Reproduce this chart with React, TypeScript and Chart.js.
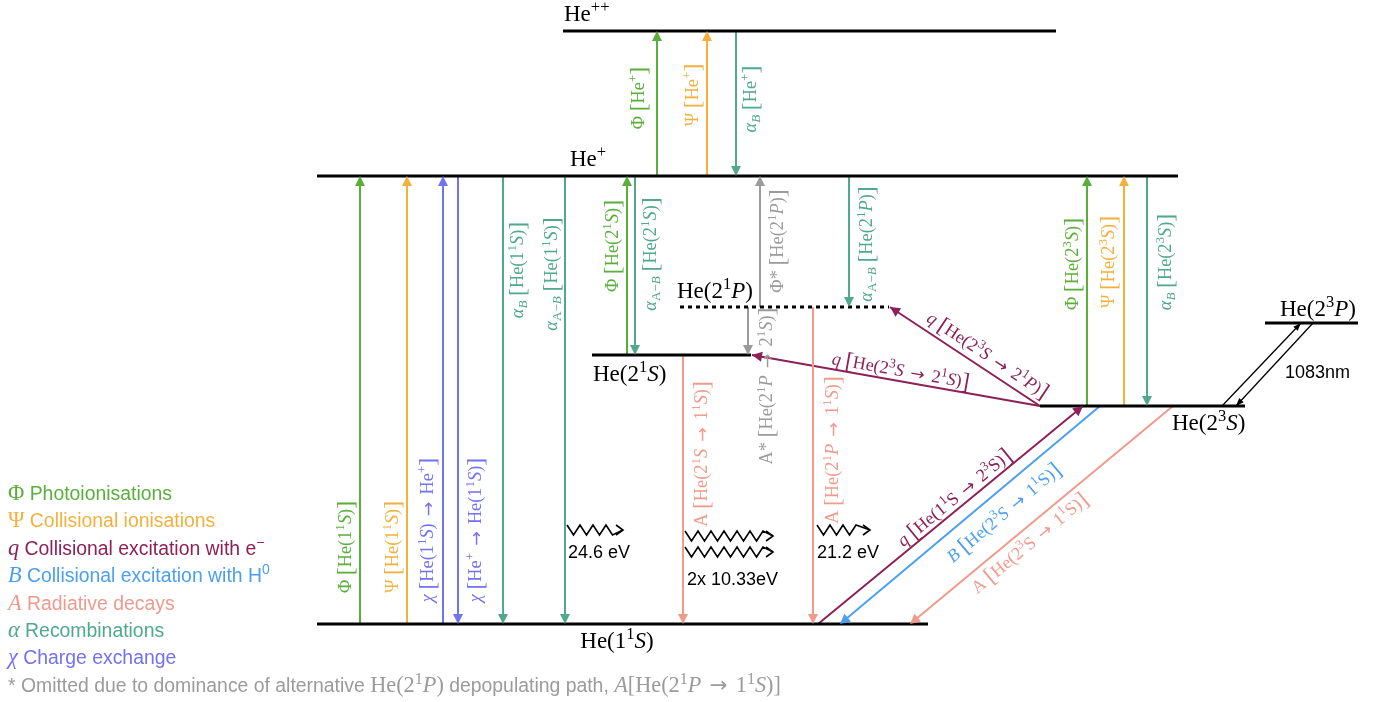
import React, { useEffect, useRef } from 'react';
import { Chart, registerables } from 'chart.js';

Chart.register(...registerables);

// ---------------- DATA (schematic diagram units: x across, E upward) ----------------
// Energy levels
const LEVEL_LABELS = ['He(1^{1}$S$)', 'He(2^{3}$S$)', 'He(2^{1}$S$)', 'He(2^{1}$P$)', 'He(2^{3}$P$)', 'He^{+}', 'He^{++}'];
const LEVEL_E = [78, 296, 347, 395, 379, 526, 671];
const LEVEL_X0 = [317, 1040, 592, 680, 1265, 317, 563];
const LEVEL_X1 = [928, 1245, 751, 889, 1358, 1178, 1056];
const LEVEL_LABEL_X = [617, 1172, 593, 677, 1280, 570, 564];
const LEVEL_LABEL_E = [54, 272, 321, 404, 386, 536, 681];

// Vertical transitions (index into levels)
const V_KIND = ['Φ', 'Ψ', 'α', 'Φ', 'Ψ', 'χ', 'χ', 'α', 'α', 'Φ', 'α', '*', 'α', '*', 'A', 'A', 'Φ', 'Ψ', 'α'];
const V_X = [657, 707, 736, 360, 407, 443, 458, 503, 565, 627, 635, 760, 849, 748, 683, 813, 1087, 1124, 1147];
const V_FROM = [5, 5, 6, 0, 0, 0, 5, 5, 5, 2, 5, 3, 5, 3, 2, 3, 1, 1, 5];
const V_TO = [6, 6, 5, 5, 5, 5, 0, 0, 0, 5, 2, 5, 3, 2, 0, 0, 5, 5, 1];
const V_LABELS = [
  'Φ ⟦He^{+}⟧',
  'Ψ ⟦He^{+}⟧',
  '$α$_{$B$} ⟦He^{+}⟧',
  'Φ ⟦He(1^{1}$S$)⟧',
  'Ψ ⟦He(1^{1}$S$)⟧',
  '$χ$ ⟦He(1^{1}$S$) → He^{+}⟧',
  '$χ$ ⟦He^{+} → He(1^{1}$S$)⟧',
  '$α$_{$B$} ⟦He(1^{1}$S$)⟧',
  '$α$_{A−$B$} ⟦He(1^{1}$S$)⟧',
  'Φ ⟦He(2^{1}$S$)⟧',
  '$α$_{A−$B$} ⟦He(2^{1}$S$)⟧',
  'Φ* ⟦He(2^{1}$P$)⟧',
  '$α$_{A−$B$} ⟦He(2^{1}$P$)⟧',
  'A* ⟦He(2^{1}$P$ → 2^{1}$S$)⟧',
  'A ⟦He(2^{1}$S$ → 1^{1}$S$)⟧',
  'A ⟦He(2^{1}$P$ → 1^{1}$S$)⟧',
  'Φ ⟦He(2^{3}$S$)⟧',
  'Ψ ⟦He(2^{3}$S$)⟧',
  '$α$_{$B$} ⟦He(2^{3}$S$)⟧',
];
const V_LABEL_DX = [-19, -15, 14, -15, -15, -16, 17, 14, -14, -15, 15, 17, 17, 18, 18, 19, -15, -16, 18];
const V_LABEL_E = [604, 607, 603, 155, 155, 172, 172, 432, 428, 456, 448, 461, 458, 316, 248, 252, 438, 440, 440];

// Slanted transitions
const D_KIND = ['q', 'q', 'q', 'B', 'A', 'λ', 'λ'];
const D_X0 = [1040, 1040, 818, 1100, 1173, 1222, 1313];
const D_FROM = [1, 1, 0, 1, 1, 1, 4];
const D_X1 = [752, 890, 1083, 840, 910, 1301, 1236];
const D_TO = [2, 3, 1, 0, 0, 4, 1];
const D_LABELS = [
  '$q$ ⟦He(2^{3}$S$ → 2^{1}$S$)⟧',
  '$q$ ⟦He(2^{3}$S$ → 2^{1}$P$)⟧',
  '$q$ ⟦He(1^{1}S → 2^{3}S)⟧',
  '$B$ ⟦He(2^{3}$S$ → 1^{1}S)⟧',
  'A ⟦He(2^{3}S → 1^{1}S)⟧',
  '',
  '',
];
const D_LABEL_T = [0.49, 0.4, 0.54, 0.42, 0.58, 0, 0];
const D_LABEL_OFF = [11, 14, 11, -20, -14, 0, 0];

// Emitted photons
const PHOTON_X0 = [567, 685, 685, 817];
const PHOTON_X1 = [623, 773, 773, 870];
const PHOTON_E = [172, 166, 150, 172];
const PHOTON_LABELS = ['24.6 eV', '2x 10.33eV', '21.2 eV', '1083nm'];
const PHOTON_LABEL_X = [568, 687, 817, 1285];
const PHOTON_LABEL_E = [144, 117, 144, 324];

// Legend
const LEGEND_ITEMS = [
  'Φ~ Photoionisations~',
  'Ψ~ Collisional ionisations~',
  '$q$~ Collisional excitation with e^{−}~',
  '$B$~ Collisional excitation with H^{0}~',
  '$A$~ Radiative decays~',
  '$α$~ Recombinations~',
  '$χ$~ Charge exchange~',
  '~* Omitted due to dominance of alternative ~He(2^{1}$P$)~ depopulating path, ~$A$[He(2^{1}$P$ → 1^{1}$S$)]',
];
const LEGEND_KIND = ['Φ', 'Ψ', 'q', 'B', 'A', 'α', 'χ', '*'];

// ---------------- STYLE ----------------
const COLORS: Record<string, string> = {
  'Φ': '#5aaf3a',
  'Ψ': '#f2b13c',
  'q': '#8c2157',
  'B': '#4b9ff2',
  'A': '#f09a8c',
  'α': '#4fa98a',
  'χ': '#7272f2',
  '*': '#9b9b9b',
  'λ': '#000000',
};
const SERIF = '"Liberation Serif", "Times New Roman", serif';
const SANS = '"Liberation Sans", Arial, Helvetica, sans-serif';
const ARROWFONT = '"DejaVu Sans", sans-serif';

type Run = { t: string; it: boolean; sans: boolean; lvl: number; big: boolean; arrow?: boolean };

function parseRich(s: string, lvl = 0, it0 = false, sans0 = false): Run[] {
  const runs: Run[] = [];
  let it = it0;
  let sans = sans0;
  let buf = '';
  const flush = () => {
    if (buf) {
      runs.push({ t: buf, it, sans, lvl, big: false });
      buf = '';
    }
  };
  for (let i = 0; i < s.length; i++) {
    const c = s[i];
    if (c === '$') {
      flush();
      it = !it;
    } else if (c === '~') {
      flush();
      sans = !sans;
    } else if ((c === '^' || c === '_') && s[i + 1] === '{') {
      flush();
      let depth = 1;
      let j = i + 2;
      while (j < s.length && depth > 0) {
        if (s[j] === '{') depth++;
        else if (s[j] === '}') depth--;
        j++;
      }
      const inner = s.slice(i + 2, j - 1);
      runs.push(...parseRich(inner, c === '^' ? 1 : -1, it, sans));
      i = j - 1;
    } else if (c === '⟦' || c === '⟧') {
      flush();
      runs.push({ t: c === '⟦' ? '[' : ']', it: false, sans: false, lvl, big: true });
    } else if (c === '→') {
      flush();
      runs.push({ t: '→', it: false, sans: false, lvl, big: false, arrow: true });
    } else {
      buf += c;
    }
  }
  flush();
  return runs;
}

function runFont(r: Run, size: number, serifScale: number) {
  const s0 = r.sans ? size : size * serifScale;
  if (r.arrow) return `${s0 * 0.95}px ${ARROWFONT}`;
  const sz = r.lvl !== 0 ? s0 * 0.72 : r.big ? s0 * 1.3 : s0;
  return `${r.it ? 'italic ' : ''}${sz}px ${r.sans ? SANS : SERIF}`;
}

function drawRich(
  ctx: CanvasRenderingContext2D,
  s: string,
  x: number,
  y: number,
  size: number,
  color: string,
  align: 'left' | 'center' = 'left',
  angle = 0,
  vCenter = false,
  serifScale = 1
) {
  const runs = parseRich(s);
  const pad = size * 0.14;
  const widths = runs.map((r) => {
    ctx.font = runFont(r, size, serifScale);
    return ctx.measureText(r.t).width + (r.arrow ? 2 * pad : 0);
  });
  const total = widths.reduce((a, b) => a + b, 0);
  ctx.save();
  ctx.translate(x, y);
  ctx.rotate(angle);
  ctx.fillStyle = color;
  ctx.textBaseline = 'alphabetic';
  ctx.textAlign = 'left';
  let cx = align === 'center' ? -total / 2 : 0;
  const base = vCenter ? size * 0.33 : 0;
  runs.forEach((r, i) => {
    ctx.font = runFont(r, size, serifScale);
    const dy = r.lvl === 1 ? -size * 0.4 : r.lvl === -1 ? size * 0.2 : r.big ? size * 0.08 : r.arrow ? size * 0.03 : 0;
    ctx.fillText(r.t, cx + (r.arrow ? pad : 0), base + dy);
    cx += widths[i];
  });
  ctx.restore();
}

function arrowHead(
  ctx: CanvasRenderingContext2D,
  x0: number,
  y0: number,
  x1: number,
  y1: number,
  len: number,
  width: number,
  color: string
) {
  const dx = x1 - x0;
  const dy = y1 - y0;
  const d = Math.hypot(dx, dy) || 1;
  const ux = dx / d;
  const uy = dy / d;
  const bx = x1 - ux * len;
  const by = y1 - uy * len;
  ctx.save();
  ctx.fillStyle = color;
  ctx.beginPath();
  ctx.moveTo(x1, y1);
  ctx.lineTo(bx - uy * width / 2, by + ux * width / 2);
  ctx.lineTo(bx + uy * width / 2, by - ux * width / 2);
  ctx.closePath();
  ctx.fill();
  ctx.restore();
}

const diagramPlugin = {
  id: 'diagram',
  afterDatasetsDraw(chart: any) {
    const ctx: CanvasRenderingContext2D = chart.ctx;
    const xs = chart.scales.x;
    const ys = chart.scales.y;
    const px = (v: number) => xs.getPixelForValue(v);
    const py = (v: number) => ys.getPixelForValue(v);

    // vertical arrowheads + labels
    V_X.forEach((x, i) => {
      const c = COLORS[V_KIND[i]];
      const sx = px(x);
      const y0 = py(LEVEL_E[V_FROM[i]]);
      const y1 = py(LEVEL_E[V_TO[i]]);
      arrowHead(ctx, sx, y0, sx, y1, 10, 10, c);
      drawRich(ctx, V_LABELS[i], sx + V_LABEL_DX[i], py(V_LABEL_E[i]), 18.3, c, 'center', -Math.PI / 2, true);
    });

    // slanted arrowheads + labels
    D_X0.forEach((x0, i) => {
      const c = COLORS[D_KIND[i]];
      const sx0 = px(x0);
      const sy0 = py(LEVEL_E[D_FROM[i]]);
      const sx1 = px(D_X1[i]);
      const sy1 = py(LEVEL_E[D_TO[i]]);
      const thin = D_KIND[i] === 'λ';
      arrowHead(ctx, sx0, sy0, sx1, sy1, thin ? 8 : 10, thin ? 6 : 10, c);
      if (D_LABELS[i]) {
        let dx = sx1 - sx0;
        let dy = sy1 - sy0;
        if (dx < 0) {
          dx = -dx;
          dy = -dy;
        }
        const th = Math.atan2(dy, dx);
        const t = D_LABEL_T[i];
        const cx0 = sx0 + (sx1 - sx0) * t + D_LABEL_OFF[i] * Math.sin(th);
        const cy0 = sy0 + (sy1 - sy0) * t - D_LABEL_OFF[i] * Math.cos(th);
        drawRich(ctx, D_LABELS[i], cx0, cy0, 18, c, 'center', th, true);
      }
    });

    // level labels
    LEVEL_LABELS.forEach((lab, i) => {
      drawRich(ctx, lab, px(LEVEL_LABEL_X[i]), py(LEVEL_LABEL_E[i]), 23, '#000', i === 0 ? 'center' : 'left');
    });

    // photons (zigzag arrows)
    ctx.save();
    ctx.strokeStyle = '#000';
    ctx.lineWidth = 1.6;
    ctx.lineJoin = 'miter';
    PHOTON_X0.forEach((x0, i) => {
      const a = px(x0);
      const b = px(PHOTON_X1[i]);
      const y = py(PHOTON_E[i]);
      const half = 6.5;
      const amp = 5;
      ctx.beginPath();
      ctx.moveTo(a, y - amp);
      let k = 1;
      let xx = a + half;
      while (xx < b - 8) {
        ctx.lineTo(xx, k % 2 === 1 ? y + amp : y - amp);
        k++;
        xx += half;
      }
      ctx.lineTo(b, y);
      ctx.stroke();
      ctx.beginPath();
      ctx.moveTo(b - 7, y - 5);
      ctx.lineTo(b, y);
      ctx.lineTo(b - 7, y + 5);
      ctx.stroke();
    });
    ctx.restore();
    PHOTON_LABELS.forEach((lab, i) => {
      ctx.save();
      ctx.fillStyle = '#000';
      ctx.font = `18px ${SANS}`;
      ctx.textBaseline = 'alphabetic';
      ctx.fillText(lab, px(PHOTON_LABEL_X[i]), py(PHOTON_LABEL_E[i]));
      ctx.restore();
    });

    // legend
    LEGEND_ITEMS.forEach((item, i) => {
      drawRich(ctx, item, 8, 500 + i * 27.4, 19.4, COLORS[LEGEND_KIND[i]], 'left', 0, false, 1.15);
    });
  },
};

export default function App() {
  const ref = useRef<HTMLCanvasElement | null>(null);
  useEffect(() => {
    document.body.style.margin = '0';
    document.body.style.overflow = 'hidden';
    const canvas = ref.current;
    if (!canvas) return;
    const line = (pts: { x: number; y: number }[], color: string, width: number, dash: number[] = []) => ({
      data: pts,
      showLine: true,
      borderColor: color,
      backgroundColor: color,
      borderWidth: width,
      borderDash: dash,
      pointRadius: 0,
      fill: false,
    });
    const datasets: any[] = [];
    LEVEL_E.forEach((e, i) => {
      datasets.push(
        line(
          [
            { x: LEVEL_X0[i], y: e },
            { x: LEVEL_X1[i], y: e },
          ],
          '#000',
          3,
          i === 3 ? [4, 4] : []
        )
      );
    });
    V_X.forEach((x, i) => {
      datasets.push(
        line(
          [
            { x, y: LEVEL_E[V_FROM[i]] },
            { x, y: LEVEL_E[V_TO[i]] },
          ],
          COLORS[V_KIND[i]],
          2
        )
      );
    });
    D_X0.forEach((x0, i) => {
      datasets.push(
        line(
          [
            { x: x0, y: LEVEL_E[D_FROM[i]] },
            { x: D_X1[i], y: LEVEL_E[D_TO[i]] },
          ],
          COLORS[D_KIND[i]],
          D_KIND[i] === 'λ' ? 1.3 : 2
        )
      );
    });
    const chart = new Chart(canvas, {
      type: 'scatter',
      data: { datasets },
      options: {
        responsive: false,
        animation: false,
        events: [],
        layout: { padding: 0 },
        plugins: { legend: { display: false }, tooltip: { enabled: false } },
        scales: {
          x: { type: 'linear', min: 0, max: 1384, display: false },
          y: { type: 'linear', min: 0, max: 702, display: false },
        },
      },
      plugins: [diagramPlugin],
    } as any);
    return () => chart.destroy();
  }, []);
  return <canvas ref={ref} width={1384} height={702} style={{ display: 'block' }} />;
}
